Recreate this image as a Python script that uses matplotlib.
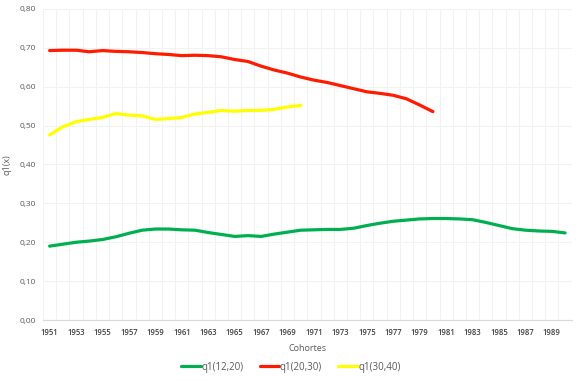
import numpy as np
import matplotlib.pyplot as plt

years = list(range(1951, 1991))

q1_12_20 = [0.190, 0.195, 0.200, 0.203, 0.207, 0.214, 0.223, 0.231, 0.234, 0.234,
            0.232, 0.231, 0.225, 0.220, 0.215, 0.217, 0.215, 0.221, 0.226, 0.231,
            0.232, 0.233, 0.233, 0.236, 0.243, 0.249, 0.254, 0.257, 0.260, 0.261,
            0.261, 0.260, 0.258, 0.251, 0.243, 0.235, 0.231, 0.229, 0.228, 0.224]

q1_20_30 = [0.693, 0.694, 0.694, 0.690, 0.693, 0.691, 0.690, 0.688, 0.685, 0.683,
            0.680, 0.681, 0.680, 0.677, 0.670, 0.665, 0.653, 0.643, 0.635, 0.625,
            0.617, 0.611, 0.603, 0.595, 0.587, 0.583, 0.578, 0.569, 0.553, 0.536]

q1_30_40 = [0.476, 0.497, 0.510, 0.516, 0.521, 0.531, 0.527, 0.525, 0.516, 0.518,
            0.521, 0.530, 0.534, 0.539, 0.537, 0.539, 0.539, 0.542, 0.548, 0.552]

series = [("q1(12,20)", q1_12_20, "#00B050"),
          ("q1(20,30)", q1_20_30, "#FF1A00"),
          ("q1(30,40)", q1_30_40, "#FFFF00")]

plt.rcParams['font.family'] = ['Open Sans', 'DejaVu Sans']

fig = plt.figure(figsize=(5.82, 3.81), dpi=100)
ax = fig.add_axes([0.0739, 0.1601, 0.9084, 0.8163])

for label, vals, color in series:
    ax.plot(years[:len(vals)], vals, color=color, lw=2.3, label=label,
            solid_joinstyle='round', solid_capstyle='round')

ax.set_xlim(1950.5, 1990.5)
ax.set_ylim(0, 0.8)
ax.set_yticks(np.arange(0, 0.81, 0.1))
ax.set_yticklabels([f"{v:.2f}".replace('.', ',') for v in np.arange(0, 0.81, 0.1)],
                   fontsize=6, color='#595959')
ax.set_xticks(years[::2])
ax.set_xticklabels([str(y) for y in years[::2]], fontsize=5.5, color='#404040',
                   fontweight='semibold')
ax.set_xticks(np.arange(1950.5, 1991, 1), minor=True)
ax.tick_params(axis='both', which='both', length=0)
ax.tick_params(axis='x', pad=6)
ax.tick_params(axis='y', pad=5)

ax.grid(axis='y', color='#F2F2F2', lw=0.8)
ax.grid(axis='x', which='minor', color='#F2F2F2', lw=0.8)
ax.set_axisbelow(True)

for s in ['top', 'right', 'left']:
    ax.spines[s].set_visible(False)
ax.spines['bottom'].set_color('#D9D9D9')
ax.spines['bottom'].set_linewidth(0.8)

ax.set_ylabel('q1(x)', fontsize=6.5, color='#595959', labelpad=6)
ax.set_xlabel('Cohortes', fontsize=6.5, color='#595959', labelpad=5)

fig.legend(loc='center', bbox_to_anchor=(0.5, 0.036), ncol=3, frameon=False,
           fontsize=7, handlelength=2.0, handletextpad=0.05, columnspacing=1.7,
           labelcolor='#595959')

fig.savefig('out.png', dpi=100)
